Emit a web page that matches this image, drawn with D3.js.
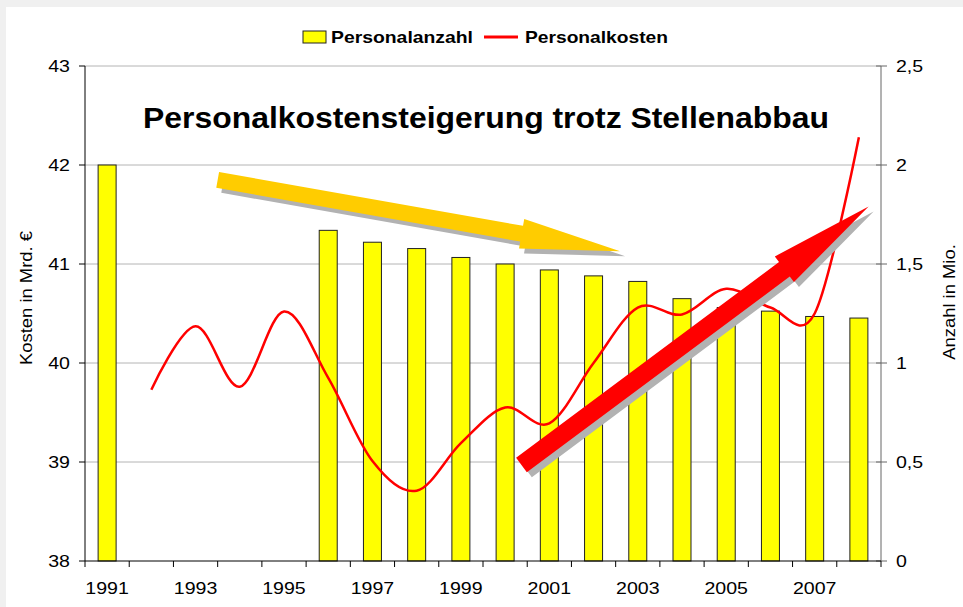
<!DOCTYPE html>
<html>
<head>
<meta charset="utf-8">
<script src="https://cdn.jsdelivr.net/npm/d3@7"></script>
<style>
  body { margin: 0; background: #f0f0f0; }
  svg { display: block; font-family: Arial, "Liberation Sans", sans-serif; }
</style>
</head>
<body>
<svg width="963" height="607"></svg>
<script>
'use strict';
// data
var years = d3.range(1991, 2009);
var yearLabels = [1991, 1993, 1995, 1997, 1999, 2001, 2003, 2005, 2007];
// Personalanzahl (Mio.), right axis
var anzahl = [
  [1991, 2.0], [1996, 1.67], [1997, 1.61], [1998, 1.578], [1999, 1.533],
  [2000, 1.50], [2001, 1.47], [2002, 1.44], [2003, 1.412], [2004, 1.325],
  [2005, 1.28], [2006, 1.262], [2007, 1.235], [2008, 1.227]
];
// Personalkosten (Mrd. EUR), left axis
var kosten = [
  [1992, 39.73], [1993, 40.37], [1994, 39.76], [1995, 40.52], [1996, 39.85],
  [1997, 39.01], [1998, 38.71], [1999, 39.19], [2000, 39.55], [2001, 39.39],
  [2002, 40.0], [2003, 40.56], [2004, 40.49], [2005, 40.75], [2006, 40.56],
  [2007, 40.5], [2008, 42.28]
];
var leftTicks = [38, 39, 40, 41, 42, 43];
var rightTicks = [0, 0.5, 1, 1.5, 2, 2.5];
// annotation arrows: [year, Mrd] from -> to
var arrowDown = [[1993.5, 41.85], [2002.6, 41.13]];
var arrowUp = [[2000.37, 38.97], [2008.22, 41.58]];

(() => {
  var svg = d3.select('svg');
  var mLeft = 85, mRight = 881, mTop = 66, mBottom = 561;
  var STRETCH = 1.15;

  svg.append('rect')
    .attr('x', 6).attr('y', 7)
    .attr('width', 963).attr('height', 607)
    .attr('fill', 'white');

  var x = d3.scaleBand().domain(years).range([mLeft, mRight]).padding(0);
  var bw = x.bandwidth();
  var xc = y => x(years[0]) + bw / 2 + (y - years[0]) * bw; // continuous year pos
  var yL = d3.scaleLinear().domain([38, 43]).range([mBottom, mTop]);
  var yR = d3.scaleLinear().domain([0, 2.5]).range([mBottom, mTop]);

  function stretch(sel, w) {
    sel.each(function() {
      var len = w || this.getComputedTextLength() * STRETCH;
      d3.select(this)
        .attr('textLength', len)
        .attr('lengthAdjust', 'spacingAndGlyphs');
    });
  }

  // gridlines
  svg.append('g').selectAll('line').data(leftTicks.slice(1))
    .enter().append('line')
      .attr('x1', mLeft).attr('x2', mRight)
      .attr('y1', d => yL(d)).attr('y2', d => yL(d))
      .attr('stroke', '#b4b4b4').attr('stroke-width', 1);

  // bars
  var barW = 18;
  svg.append('g').selectAll('rect').data(anzahl)
    .enter().append('rect')
      .attr('x', d => x(d[0]) + (bw - barW) / 2)
      .attr('y', d => yR(d[1]))
      .attr('width', barW)
      .attr('height', d => yR(0) - yR(d[1]))
      .attr('fill', '#ffff00')
      .attr('stroke', '#222')
      .attr('stroke-width', 1);

  // line
  var line = d3.line()
    .x(d => xc(d[0]))
    .y(d => yL(d[1]))
    .curve(d3.curveCatmullRom.alpha(0));
  svg.append('path')
    .datum(kosten)
    .attr('d', line)
    .attr('fill', 'none')
    .attr('stroke', '#ff0000')
    .attr('stroke-width', 2.5)
    .attr('stroke-linejoin', 'round');

  // arrows
  function arrowPts(a, b, sw, hw, hl) {
    var x0 = xc(a[0]), y0 = yL(a[1]), x1 = xc(b[0]), y1 = yL(b[1]);
    var dx = x1 - x0, dy = y1 - y0, L = Math.hypot(dx, dy);
    var ux = dx / L, uy = dy / L, px = -uy, py = ux;
    var bx = x1 - ux * hl, by = y1 - uy * hl;
    return [
      [x0 + px * sw / 2, y0 + py * sw / 2],
      [bx + px * sw / 2, by + py * sw / 2],
      [bx + px * hw / 2, by + py * hw / 2],
      [x1, y1],
      [bx - px * hw / 2, by - py * hw / 2],
      [bx - px * sw / 2, by - py * sw / 2],
      [x0 - px * sw / 2, y0 - py * sw / 2]
    ];
  }
  function drawArrow(a, b, sw, hw, hl, color) {
    var pts = arrowPts(a, b, sw, hw, hl).map(p => p.join(',')).join(' ');
    svg.append('polygon')
      .attr('points', pts)
      .attr('transform', 'translate(5,5)')
      .attr('fill', '#b2b2b2');
    svg.append('polygon')
      .attr('points', pts)
      .attr('fill', color);
  }
  drawArrow(arrowDown[0], arrowDown[1], 16, 30, 100, '#ffcc00');
  drawArrow(arrowUp[0], arrowUp[1], 18, 32, 105, '#ff0000');

  // axes
  var ax = svg.append('g').attr('stroke-width', 1);
  ax.append('line')
    .attr('x1', mLeft).attr('x2', mLeft).attr('y1', mTop).attr('y2', mBottom)
    .attr('stroke', '#000');
  ax.append('line')
    .attr('x1', mRight).attr('x2', mRight).attr('y1', mTop).attr('y2', mBottom)
    .attr('stroke', '#666');
  ax.append('g').selectAll('line').data(leftTicks)
    .enter().append('line')
      .attr('x1', mLeft - 6).attr('x2', mLeft)
      .attr('y1', d => yL(d)).attr('y2', d => yL(d))
      .attr('stroke', '#000');
  ax.append('g').selectAll('line').data(rightTicks)
    .enter().append('line')
      .attr('x1', mRight - 5).attr('x2', mRight + 6)
      .attr('y1', d => yR(d)).attr('y2', d => yR(d))
      .attr('stroke', '#666');
  ax.append('line')
    .attr('x1', mLeft).attr('x2', mRight).attr('y1', mBottom).attr('y2', mBottom)
    .attr('stroke', '#000');
  ax.append('g').selectAll('line').data(years.concat([null]))
    .enter().append('line')
      .attr('x1', (d, i) => mLeft + i * bw).attr('x2', (d, i) => mLeft + i * bw)
      .attr('y1', mBottom).attr('y2', mBottom + 6)
      .attr('stroke', '#000');

  var fmt = d => String(d).replace('.', ',');
  svg.append('g').selectAll('text').data(leftTicks)
    .enter().append('text')
      .attr('x', mLeft - 15).attr('y', d => yL(d) + 6)
      .attr('text-anchor', 'end')
      .attr('font-size', 17)
      .text(d => d)
      .call(stretch);
  svg.append('g').selectAll('text').data(rightTicks)
    .enter().append('text')
      .attr('x', mRight + 15).attr('y', d => yR(d) + 6)
      .attr('font-size', 17)
      .text(fmt)
      .call(stretch);
  svg.append('g').selectAll('text').data(yearLabels)
    .enter().append('text')
      .attr('x', d => x(d) + bw / 2).attr('y', mBottom + 33)
      .attr('text-anchor', 'middle')
      .attr('font-size', 17)
      .text(d => d)
      .call(stretch);

  svg.append('text')
    .attr('transform', 'translate(32, 298) rotate(-90)')
    .attr('text-anchor', 'middle')
    .attr('font-size', 16)
    .text('Kosten in Mrd. €')
    .call(stretch);
  svg.append('text')
    .attr('transform', 'translate(955, 302) rotate(-90)')
    .attr('text-anchor', 'middle')
    .attr('font-size', 16)
    .text('Anzahl in Mio.')
    .call(stretch);

  // title
  svg.append('text')
    .attr('x', 486).attr('y', 128)
    .attr('text-anchor', 'middle')
    .attr('font-size', 30)
    .attr('font-weight', 'bold')
    .text('Personalkostensteigerung trotz Stellenabbau')
    .call(stretch, 686);

  // legend
  var lg = svg.append('g');
  lg.append('rect')
    .attr('x', 303).attr('y', 31).attr('width', 23).attr('height', 12)
    .attr('fill', '#ffff00').attr('stroke', '#222');
  lg.append('text')
    .attr('x', 331).attr('y', 43)
    .attr('font-size', 16.5).attr('font-weight', 'bold')
    .text('Personalanzahl')
    .call(stretch, 142);
  lg.append('line')
    .attr('x1', 484).attr('x2', 518).attr('y1', 37).attr('y2', 37)
    .attr('stroke', '#ff0000').attr('stroke-width', 3);
  lg.append('text')
    .attr('x', 525).attr('y', 43)
    .attr('font-size', 16.5).attr('font-weight', 'bold')
    .text('Personalkosten')
    .call(stretch, 143);
})();
</script>
</body>
</html>
